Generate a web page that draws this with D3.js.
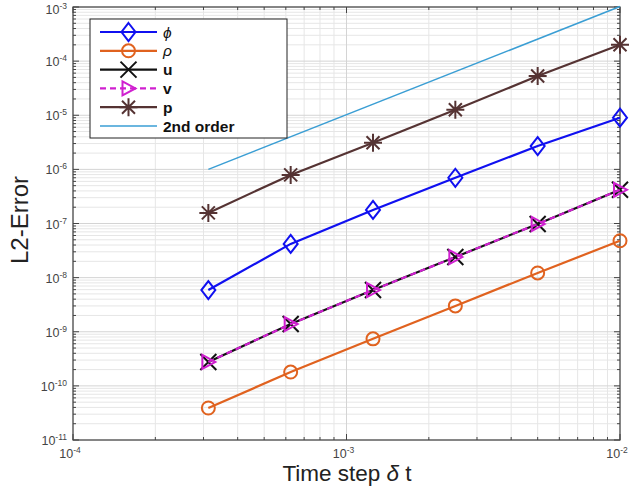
<!DOCTYPE html>
<html>
<head>
<meta charset="utf-8">
<script src="https://cdn.jsdelivr.net/npm/d3@7"></script>
<style>
  body { margin: 0; background: #fff; }
  svg { font-family: "Liberation Sans", Arial, sans-serif; }
</style>
</head>
<body>
<svg id="chart" width="630" height="493"></svg>
<script>
// time steps (x values)
const timeSteps = [3.125e-4, 6.25e-4, 1.25e-3, 2.5e-3, 5e-3, 1e-2];

// errors
const phiErr = [5.9e-9, 4.2e-8, 1.78e-7, 7.0e-7, 2.7e-6, 9.0e-6];
const rhoErr = [3.9e-11, 1.8e-10, 7.4e-10, 3.0e-9, 1.22e-8, 4.8e-8];
const uErr = [2.77e-10, 1.39e-9, 5.9e-9, 2.4e-8, 9.8e-8, 4.2e-7];
const vErr = [2.77e-10, 1.39e-9, 5.9e-9, 2.4e-8, 9.8e-8, 4.2e-7];
const pErr = [1.57e-7, 7.9e-7, 3.1e-6, 1.26e-5, 5.3e-5, 2.0e-4];

// reference slope line
const refX = [3.125e-4, 1e-2];
const refY = [1e-6, 1.02e-3];

// tick exponents
const xExps = [-4, -3, -2];
const yExps = [-11, -10, -9, -8, -7, -6, -5, -4, -3];

const series = [
    { name: "\u03d5", ys: phiErr, color: "#1010f0", marker: "diamond", dash: null, italic: true },
    { name: "\u03c1", ys: rhoErr, color: "#e0621f", marker: "circle", dash: null, italic: true },
    { name: "u", ys: uErr, color: "#111111", marker: "x", dash: null },
    { name: "v", ys: vErr, color: "#d020d0", marker: "triangle", dash: "6,4" },
    { name: "p", ys: pErr, color: "#553333", marker: "star", dash: null }
];

const svg = d3.select("#chart");
const plotL = 73, plotR = 620, plotT = 7, plotB = 440;

const x = d3.scaleLog().domain([1e-4, 1e-2]).range([plotL, plotR]);
const y = d3.scaleLog().domain([1e-11, 1e-3]).range([plotB, plotT]);

const g = svg.append("g");

//grid------------------------------------------------------------------
const minorX = [], minorY = [];
for (let e = -4; e < -2; e++) for (let m = 2; m <= 9; m++) minorX.push(m * Math.pow(10, e));
for (let e = -11; e < -3; e++) for (let m = 2; m <= 9; m++) minorY.push(m * Math.pow(10, e));

g.selectAll(".minorx").data(minorX).join("line")
    .attr("x1", d => x(d)).attr("x2", d => x(d))
    .attr("y1", plotT).attr("y2", plotB)
    .attr("stroke", "#e6e6e6").attr("stroke-width", 1);
g.selectAll(".minory").data(minorY).join("line")
    .attr("y1", d => y(d)).attr("y2", d => y(d))
    .attr("x1", plotL).attr("x2", plotR)
    .attr("stroke", "#e6e6e6").attr("stroke-width", 1);
g.selectAll(".majorx").data(xExps).join("line")
    .attr("x1", d => x(Math.pow(10, d))).attr("x2", d => x(Math.pow(10, d)))
    .attr("y1", plotT).attr("y2", plotB)
    .attr("stroke", "#d4d4d4").attr("stroke-width", 1);
g.selectAll(".majory").data(yExps).join("line")
    .attr("y1", d => y(Math.pow(10, d))).attr("y2", d => y(Math.pow(10, d)))
    .attr("x1", plotL).attr("x2", plotR)
    .attr("stroke", "#d4d4d4").attr("stroke-width", 1);

//ticks (inward, all four sides)
const tickCol = "#444";
function tickX(vals, len) {
    vals.forEach(v => {
        g.append("line").attr("x1", x(v)).attr("x2", x(v)).attr("y1", plotB).attr("y2", plotB - len).attr("stroke", tickCol);
        g.append("line").attr("x1", x(v)).attr("x2", x(v)).attr("y1", plotT).attr("y2", plotT + len).attr("stroke", tickCol);
    });
}
function tickY(vals, len) {
    vals.forEach(v => {
        g.append("line").attr("y1", y(v)).attr("y2", y(v)).attr("x1", plotL).attr("x2", plotL + len).attr("stroke", tickCol);
        g.append("line").attr("y1", y(v)).attr("y2", y(v)).attr("x1", plotR).attr("x2", plotR - len).attr("stroke", tickCol);
    });
}
tickX(minorX, 3);
tickX(xExps.map(e => Math.pow(10, e)), 6);
tickY(minorY, 3);
tickY(yExps.map(e => Math.pow(10, e)), 6);

//box
g.append("rect").attr("x", plotL).attr("y", plotT)
    .attr("width", plotR - plotL).attr("height", plotB - plotT)
    .attr("fill", "none").attr("stroke", "#444").attr("stroke-width", 1.2);

//tick labels
function powLabel(sel, e, xPos, yPos, anchor) {
    const t = sel.append("text").attr("x", xPos).attr("y", yPos)
        .attr("font-size", 12.5).attr("fill", "#444").attr("text-anchor", anchor);
    t.append("tspan").text("10");
    t.append("tspan").attr("dy", -5).attr("font-size", 8.5).text(e);
}
yExps.forEach(e => powLabel(svg, e, 67, Math.max(y(Math.pow(10, e)) + 5, 13.5), "end"));
xExps.forEach(e => powLabel(svg, e, Math.min(x(Math.pow(10, e)) - 3, 617), 458, "middle"));

//axis titles
svg.append("text").attr("transform", "translate(28," + 220 + ") rotate(-90)")
    .attr("text-anchor", "middle").attr("font-size", 24).attr("fill", "#222")
    .text("L2-Error");
const xt = svg.append("text").attr("x", 347).attr("y", 481)
    .attr("text-anchor", "middle").attr("font-size", 22.5).attr("fill", "#222");
xt.append("tspan").text("Time step ");
xt.append("tspan").attr("font-style", "italic").text("\u03b4");
xt.append("tspan").text(" t");

//lines------------------------------------------------------------------
const line = d3.line().x(d => x(d[0])).y(d => y(d[1]));

g.append("path").datum(refX.map((v, i) => [v, refY[i]]))
    .attr("d", line).attr("fill", "none")
    .attr("stroke", "#3a9ed4").attr("stroke-width", 1.5);

function drawMarker(sel, type, cx, cy, color) {
    const m = sel.append("g").attr("transform", "translate(" + cx + "," + cy + ")");
    let el;
    if (type === "diamond") el = m.append("path").attr("d", "M0,-9L7,0L0,9L-7,0Z");
    else if (type === "circle") el = m.append("circle").attr("r", 6.5);
    else if (type === "x") el = m.append("path").attr("d", "M-8,-8L8,8M-8,8L8,-8");
    else if (type === "triangle") el = m.append("path").attr("d", "M-6,-7L7,0L-6,7Z");
    else if (type === "star") el = m.append("path")
        .attr("d", "M-9,0L9,0M0,-9L0,9M-6.5,-6.5L6.5,6.5M-6.5,6.5L6.5,-6.5");
    el.attr("fill", "none").attr("stroke", color).attr("stroke-width", 2);
}

series.forEach(s => {
    const pts = timeSteps.map((t, i) => [t, s.ys[i]]);
    g.append("path").datum(pts).attr("d", line).attr("fill", "none")
        .attr("stroke", s.color).attr("stroke-width", 2.2)
        .attr("stroke-dasharray", s.dash);
    pts.forEach(p => drawMarker(g, s.marker, x(p[0]), y(p[1]), s.color));
});

//legend------------------------------------------------------------------
const lg = svg.append("g");
lg.append("rect").attr("x", 90).attr("y", 19).attr("width", 197).attr("height", 119)
    .attr("fill", "#fff").attr("stroke", "#222").attr("stroke-width", 1);
const legendItems = series.concat([{ name: "2nd order", color: "#3a9ed4", marker: null, dash: null, ref: true }]);
legendItems.forEach((s, i) => {
    const ly = 32 + i * 18.8;
    lg.append("line").attr("x1", 100).attr("x2", 157).attr("y1", ly).attr("y2", ly)
        .attr("stroke", s.color).attr("stroke-width", s.ref ? 1.5 : 2.2)
        .attr("stroke-dasharray", s.dash);
    if (s.marker) drawMarker(lg, s.marker, 128.5, ly, s.color);
    lg.append("text").attr("x", 163).attr("y", ly + 5.5)
        .attr("font-size", 15.5).attr("font-weight", s.italic ? "normal" : "bold")
        .attr("font-style", s.italic ? "italic" : "normal")
        .attr("fill", "#111").text(s.name);
});
</script>
</body>
</html>
